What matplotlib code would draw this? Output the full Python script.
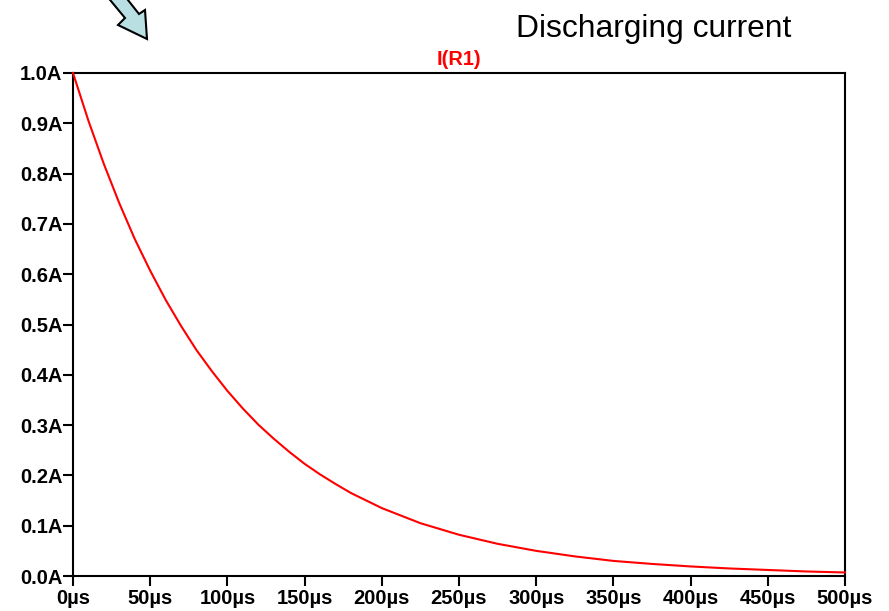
import matplotlib
matplotlib.use("Agg")
import matplotlib.pyplot as plt
from matplotlib.patches import Polygon

plt.rcParams['font.family'] = ['Liberation Sans', 'DejaVu Sans']

# Data (time in µs, current in A)
time_us = [0, 10, 20, 30, 40, 50, 60, 70, 80, 90, 100, 110, 120, 130, 140,
           150, 160, 170, 180, 190, 200, 225, 250, 275, 300, 325, 350, 375,
           400, 425, 450, 475, 500]
current_a = [1.000, 0.905, 0.819, 0.741, 0.670, 0.607, 0.549, 0.497, 0.449,
             0.407, 0.368, 0.333, 0.301, 0.273, 0.247, 0.223, 0.202, 0.183,
             0.165, 0.150, 0.135, 0.105, 0.082, 0.064, 0.050, 0.039, 0.030,
             0.024, 0.019, 0.015, 0.012, 0.009, 0.007]

x_ticks = [0, 50, 100, 150, 200, 250, 300, 350, 400, 450, 500]
x_tick_labels = ['0µs', '50µs', '100µs', '150µs', '200µs', '250µs', '300µs',
                 '350µs', '400µs', '450µs', '500µs']
y_ticks = [0.0, 0.1, 0.2, 0.3, 0.4, 0.5, 0.6, 0.7, 0.8, 0.9, 1.0]
y_tick_labels = ['0.0A', '0.1A', '0.2A', '0.3A', '0.4A', '0.5A', '0.6A',
                 '0.7A', '0.8A', '0.9A', '1.0A']

W, H = 889, 611
fig = plt.figure(figsize=(W / 100, H / 100), dpi=100)
ax = fig.add_axes([73 / W, 1 - 576 / H, (845 - 73) / W, (576 - 73) / H])

ax.plot(time_us, current_a, color='#ff0000', lw=1.5, clip_on=False, zorder=3)
ax.set_xlim(0, 500)
ax.set_ylim(0, 1.0)

ax.set_xticks(x_ticks)
ax.set_xticklabels(x_tick_labels)
ax.set_yticks(y_ticks)
ax.set_yticklabels(y_tick_labels)
for lab in ax.get_xticklabels() + ax.get_yticklabels():
    lab.set_fontweight('bold')
    lab.set_fontsize(14.5)
ax.tick_params(axis='x', direction='out', length=7.5, width=1.5, pad=2)
ax.tick_params(axis='y', direction='out', length=7.5, width=1.5, pad=0)
for s in ax.spines.values():
    s.set_linewidth(1.5)
    s.set_color('black')

ax.set_title('I(R1)', color='#ff0000', fontweight='bold', fontsize=14.4, pad=6)

fig.text(791 / W, 1 - 36.5 / H, 'Discharging current', ha='right',
         va='baseline', fontsize=22.9, color='black')

# Decorative arrow (top-left)
pts_px = [(106, -5), (125, 18), (118, 25), (147, 39), (145, 10), (139, 14), (124, -5)]
pts = [(x / W, 1 - y / H) for x, y in pts_px]
arrow = Polygon(pts, closed=True, facecolor='#b9dfe3', edgecolor='black',
                lw=1.5, transform=fig.transFigure, clip_on=False)
fig.patches.append(arrow)

fig.savefig('out.png', dpi=100)
